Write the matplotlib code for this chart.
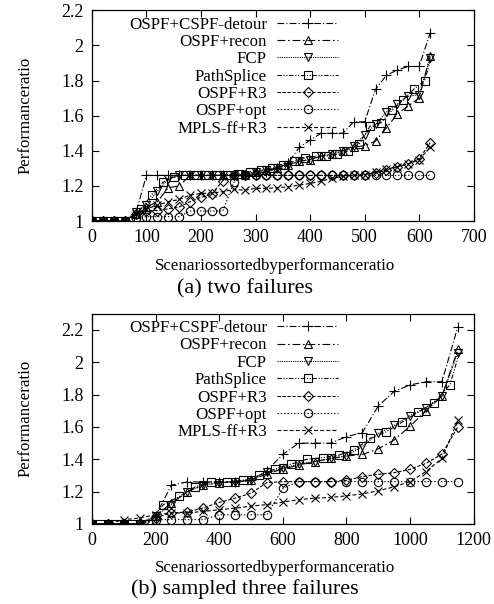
import matplotlib
matplotlib.use("Agg")
import matplotlib.pyplot as plt

plt.rcParams['font.family'] = ['Liberation Serif', 'DejaVu Serif']
plt.rcParams['font.size'] = 12.2

# (a) two failures, markers every 20 scenarios
x_a = [0, 20, 40, 60, 80, 100, 120, 140, 160, 180, 200, 220, 240, 260, 280, 300,
       320, 340, 360, 380, 400, 420, 440, 460, 480, 500, 520, 540, 560, 580, 600, 620]
x_splice_a = [10, 30, 50, 70, 90, 110, 130, 150, 170, 190, 210, 230, 250, 270, 290, 310,
              330, 350, 370, 390, 410, 430, 450, 470, 490, 510, 530, 550, 570, 590, 610, 622]
cspf_a = [1.0, 1.0, 1.0, 1.0, 1.04, 1.26, 1.26, 1.26, 1.26, 1.26, 1.26, 1.26, 1.26, 1.26, 1.26, 1.27,
          1.28, 1.30, 1.33, 1.42, 1.46, 1.50, 1.50, 1.50, 1.565, 1.565, 1.75, 1.83, 1.86, 1.88, 1.88, 2.07]
recon_a = [1.0, 1.0, 1.0, 1.0, 1.04, 1.08, 1.11, 1.19, 1.20, 1.26, 1.26, 1.26, 1.26, 1.26, 1.265, 1.28,
           1.29, 1.30, 1.32, 1.34, 1.35, 1.37, 1.38, 1.40, 1.42, 1.43, 1.455, 1.53, 1.61, 1.655, 1.70, 1.94]
fcp_a = [1.0, 1.0, 1.0, 1.0, 1.05, 1.09, 1.17, 1.24, 1.26, 1.26, 1.26, 1.26, 1.26, 1.26, 1.265, 1.28,
         1.29, 1.30, 1.32, 1.34, 1.35, 1.37, 1.38, 1.40, 1.43, 1.49, 1.55, 1.62, 1.665, 1.71, 1.72, 1.93]
splice_a = [1.0, 1.0, 1.0, 1.0, 1.07, 1.15, 1.22, 1.25, 1.26, 1.26, 1.26, 1.26, 1.265, 1.27, 1.28, 1.29,
            1.30, 1.32, 1.34, 1.36, 1.37, 1.37, 1.38, 1.40, 1.44, 1.54, 1.56, 1.63, 1.69, 1.75, 1.80, 1.93]
r3_a = [1.0, 1.0, 1.0, 1.0, 1.04, 1.06, 1.06, 1.07, 1.08, 1.11, 1.135, 1.155, 1.23, 1.26, 1.26, 1.26,
        1.26, 1.26, 1.26, 1.26, 1.26, 1.26, 1.26, 1.26, 1.26, 1.265, 1.275, 1.29, 1.31, 1.325, 1.355, 1.445]
opt_a = [1.0, 1.0, 1.0, 1.0, 1.02, 1.025, 1.025, 1.025, 1.025, 1.057, 1.057, 1.057, 1.057, 1.22, 1.26, 1.26,
         1.26, 1.26, 1.26, 1.26, 1.26, 1.26, 1.26, 1.26, 1.26, 1.26, 1.26, 1.26, 1.26, 1.26, 1.26, 1.26]
mpls_a = [1.0, 1.0, 1.0, 1.0, 1.04, 1.07, 1.09, 1.11, 1.123, 1.148, 1.157, 1.16, 1.167, 1.18, 1.176, 1.186,
          1.186, 1.19, 1.195, 1.205, 1.214, 1.227, 1.243, 1.255, 1.26, 1.265, 1.28, 1.295, 1.31, 1.325, 1.35, 1.42]

# (b) sampled three failures, markers every 50 scenarios
x_b = [0, 50, 100, 150, 200, 250, 300, 350, 400, 450, 500, 550,
       600, 650, 700, 750, 800, 850, 900, 950, 1000, 1050, 1100, 1150]
x_splice_b = [25, 75, 125, 175, 225, 275, 325, 375, 425, 475, 525, 575,
              625, 675, 725, 775, 825, 875, 925, 975, 1025, 1075, 1125, 1155]
cspf_b = [1.0, 1.0, 1.0, 1.0, 1.05, 1.24, 1.26, 1.26, 1.26, 1.26, 1.27, 1.33,
          1.43, 1.50, 1.50, 1.50, 1.54, 1.565, 1.73, 1.82, 1.86, 1.88, 1.88, 2.22]
recon_b = [1.0, 1.0, 1.0, 1.0, 1.05, 1.13, 1.20, 1.24, 1.255, 1.26, 1.27, 1.31,
           1.34, 1.365, 1.385, 1.405, 1.42, 1.43, 1.465, 1.52, 1.605, 1.70, 1.79, 2.08]
fcp_b = [1.0, 1.0, 1.0, 1.0, 1.05, 1.12, 1.20, 1.24, 1.255, 1.26, 1.27, 1.32,
         1.345, 1.37, 1.385, 1.405, 1.42, 1.48, 1.56, 1.61, 1.67, 1.72, 1.79, 2.06]
splice_b = [1.0, 1.0, 1.0, 1.0, 1.12, 1.17, 1.23, 1.26, 1.26, 1.27, 1.30, 1.34,
            1.37, 1.40, 1.41, 1.425, 1.46, 1.53, 1.57, 1.63, 1.69, 1.75, 1.86, 2.06]
r3_b = [1.0, 1.0, 1.0, 1.0, 1.04, 1.068, 1.074, 1.10, 1.133, 1.16, 1.19, 1.256,
        1.262, 1.262, 1.262, 1.262, 1.27, 1.293, 1.307, 1.317, 1.338, 1.375, 1.432, 1.60]
opt_b = [1.0, 1.0, 1.0, 1.0, 1.027, 1.027, 1.027, 1.027, 1.057, 1.057, 1.057, 1.057,
         1.22, 1.262, 1.262, 1.262, 1.262, 1.262, 1.262, 1.262, 1.262, 1.262, 1.262, 1.262]
mpls_b = [1.0, 1.0, 1.027, 1.037, 1.057, 1.068, 1.068, 1.078, 1.088, 1.098, 1.11, 1.12,
          1.135, 1.15, 1.16, 1.164, 1.174, 1.186, 1.205, 1.23, 1.262, 1.324, 1.405, 1.64]

labels = ["OSPF+CSPF-detour", "OSPF+recon", "FCP", "PathSplice", "OSPF+R3", "OSPF+opt", "MPLS-ff+R3"]
markers = ["+", "^", "v", "s", "D", "o", "x"]
dashes = [(0, (6, 2, 1, 2)), (0, (7, 2.5, 1.5, 2.5)), (0, (1, 1)), (0, (4, 1.5, 1, 1.5, 1, 1.5)),
          (0, (3, 1.5)), (0, (1.2, 1.8)), (0, (3.5, 2))]
msizes = [7, 6, 6, 6, 5, 6, 6]


def panel(ax, xs, series, xlim, ylim, xticks, yticks):
    for i, (x, y) in enumerate(zip(xs, series)):
        mk = list(range(len(x)))
        if i == 3:
            mk = mk[:-1]  # last PathSplice point has no marker
        ax.plot(x, y, color="black", lw=0.8, linestyle=dashes[i], marker=markers[i],
                markersize=msizes[i], markerfacecolor="none", markeredgewidth=0.8,
                markevery=mk, label=labels[i])
    ax.set_xlim(*xlim)
    ax.set_ylim(*ylim)
    ax.set_xticks(xticks)
    ax.set_yticks(yticks)
    ax.set_yticklabels([("%g" % v) for v in yticks])
    ax.tick_params(direction="in", top=True, right=True, length=5, width=0.8, pad=6, labelsize=13)
    for s in ax.spines.values():
        s.set_linewidth(0.9)
    ax.set_xlabel("Scenariossortedbyperformanceratio", labelpad=8)
    ax.xaxis.label.set_x(0.479)
    ax.set_ylabel("Performanceratio", labelpad=20)
    ax.legend(loc="upper left", bbox_to_anchor=(0.088, 0.986), markerfirst=False, frameon=False,
              handlelength=3.6, handletextpad=0.6, labelspacing=0.08, borderpad=0.2, borderaxespad=0)


fig = plt.figure(figsize=(4.94, 6.04), dpi=100)
ax1 = fig.add_axes([0.186, 0.634, 0.773, 0.349])
ax2 = fig.add_axes([0.186, 0.1325, 0.773, 0.348])

panel(ax1, [x_a, x_a, x_a, x_splice_a, x_a, x_a, x_a],
      [cspf_a, recon_a, fcp_a, splice_a, r3_a, opt_a, mpls_a],
      (0, 700), (1, 2.2), [0, 100, 200, 300, 400, 500, 600, 700],
      [1, 1.2, 1.4, 1.6, 1.8, 2, 2.2])
panel(ax2, [x_b, x_b, x_b, x_splice_b, x_b, x_b, x_b],
      [cspf_b, recon_b, fcp_b, splice_b, r3_b, opt_b, mpls_b],
      (0, 1200), (1, 2.3), [0, 200, 400, 600, 800, 1000, 1200],
      [1, 1.2, 1.4, 1.6, 1.8, 2, 2.2])

fig.text(0.495, 1 - 289 / 604, "(a) two failures", ha="center", va="center", fontsize=16)
fig.text(0.495, 1 - 589 / 604, "(b) sampled three failures", ha="center", va="center", fontsize=16)

fig.savefig("out.png", dpi=100)
